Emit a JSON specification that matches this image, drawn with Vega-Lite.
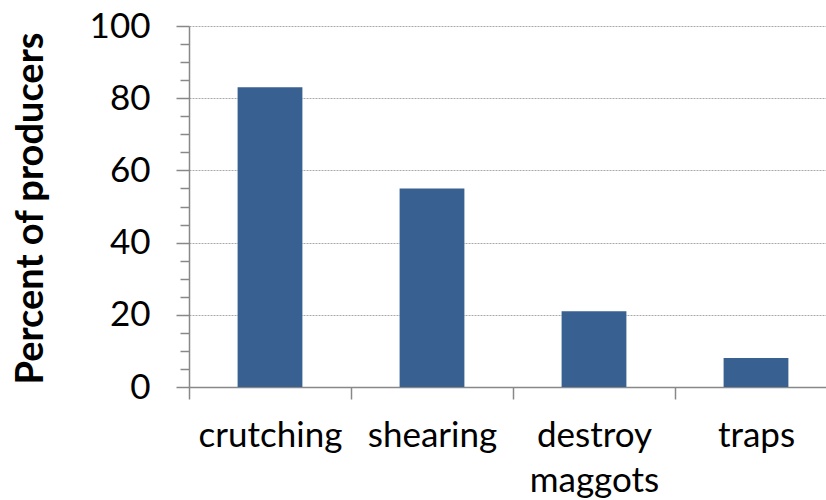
{
  "$schema": "https://vega.github.io/schema/vega-lite/v6.json",
  "autosize": "none",
  "width": 637,
  "height": 361,
  "padding": {"left": 189, "top": 26, "right": 0, "bottom": 113},
  "background": "white",
  "config": {"view": {"stroke": null}, "font": "Lato"},
  "data": {"values": [
    {"method": "crutching", "percent": 83},
    {"method": "shearing", "percent": 55},
    {"method": "destroy maggots", "percent": 21},
    {"method": "traps", "percent": 8}
  ]},
  "layer": [
    {
      "mark": {"type": "bar", "width": {"band": 0.4}, "color": "#386192"},
      "encoding": {
        "x": {
          "field": "method", "type": "nominal", "sort": null,
          "scale": {"range": [0, 648], "paddingInner": 0, "paddingOuter": 0},
          "axis": {
            "title": null, "labelAngle": 0, "tickBand": "extent",
            "labelExpr": "split(datum.label, ' ')",
            "labelFont": "Lato", "labelFontSize": 35, "labelColor": "#000000",
            "labelPadding": 19, "labelLineHeight": 45, "labelBaseline": "top",
            "tickSize": 12, "tickColor": "#888888", "tickWidth": 1.5,
            "domainColor": "#888888", "domainWidth": 1.5, "grid": false
          }
        },
        "y": {
          "field": "percent", "type": "quantitative",
          "scale": {"domain": [0, 100], "nice": false},
          "axis": {
            "title": "Percent of producers", "orient": "left",
            "values": [0, 20, 40, 60, 80, 100],
            "labelFont": "Lato", "labelFontSize": 35, "labelColor": "#000000",
            "labelPadding": 26, "tickSize": 13, "tickColor": "#888888", "tickWidth": 1.5,
            "domainColor": "#888888", "domainWidth": 1.5,
            "grid": true, "gridColor": "#aaaaaa", "gridDash": [2, 1], "gridWidth": 1,
            "titleFont": "Lato", "titleFontSize": 38, "titleFontWeight": "bold", "titleColor": "#000000",
            "titleX": -147, "titleY": 182, "titleBaseline": "alphabetic", "titleAngle": -90, "titleAlign": "center"
          }
        }
      }
    },
    {
      "mark": {"type": "bar", "opacity": 0},
      "encoding": {
        "x": {"field": "method", "type": "nominal", "sort": null},
        "y": {
          "field": "percent", "type": "quantitative",
          "axis": {
            "title": null, "orient": "left", "offset": 0,
            "values": [5, 10, 15, 25, 30, 35, 45, 50, 55, 65, 70, 75, 85, 90, 95],
            "labels": false, "domain": false, "grid": false,
            "tickSize": 9, "tickColor": "#888888", "tickWidth": 1.5
          }
        }
      }
    }
  ],
  "resolve": {"axis": {"y": "independent"}}
}
